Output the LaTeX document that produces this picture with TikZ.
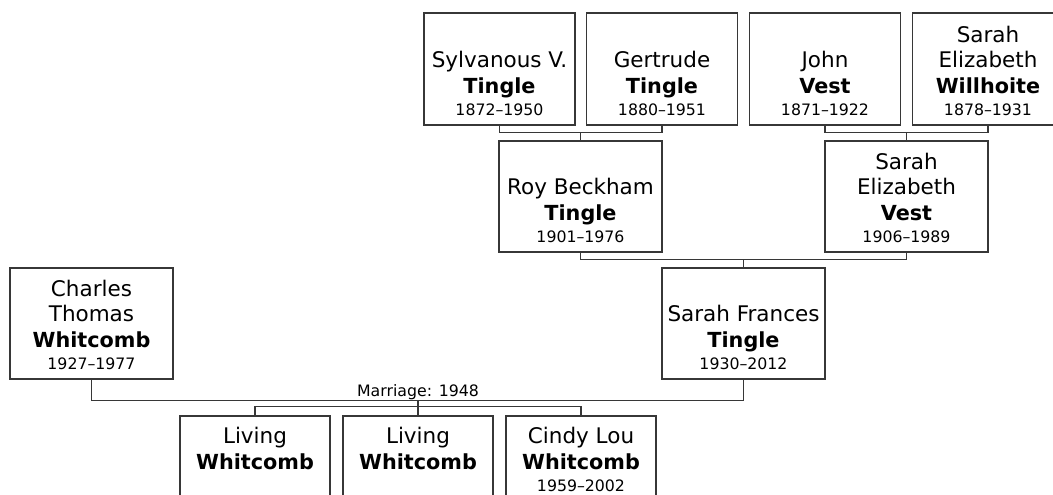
\documentclass[tikz,border=0pt]{standalone}
\usepackage{fontspec}
\setmainfont{DejaVu Sans}
\usetikzlibrary{calc}
\definecolor{edge}{RGB}{55,55,55}
\newcommand{\nm}{\fontsize{21.5}{25.5}\selectfont}
\newcommand{\bn}[1]{{\fontsize{20.75}{25.5}\selectfont\bfseries #1}}
\newcommand{\dt}{\fontsize{15.75}{22}\selectfont}
\begin{document}
\begin{tikzpicture}[x=1pt,y=-1pt,
  person/.style={draw=edge, line width=1.3pt, fill=white, inner sep=0pt},
  topbox/.style={person, minimum width=151pt, minimum height=112pt},
  midbox/.style={person, minimum width=163pt, minimum height=111pt},
  kidbox/.style={person, minimum width=150pt, minimum height=85pt},
  txt/.style={anchor=south, inner sep=0pt, align=center, font=\nm, text depth=0pt},
  link/.style={draw=edge, line width=1.4pt},
  lbl/.style={anchor=base, inner sep=0pt, font=\dt}]
\clip (0,0) rectangle (1053,495);
% top row
\node[topbox] (syl) at (499.5,69) {};
\node[txt] (sylt) at ([yshift=10pt]syl.south) {Sylvanous V.\\\bn{Tingle}\\[-3.5pt]{\dt 1872–1950}};
\node[topbox] (ger) at (662,69) {};
\node[txt] (gert) at ([yshift=10pt]ger.south) {Gertrude\\\bn{Tingle}\\[-3.5pt]{\dt 1880–1951}};
\node[topbox] (joh) at (825,69) {};
\node[txt] (joht) at ([yshift=10pt]joh.south) {John\\\bn{Vest}\\[-3.5pt]{\dt 1871–1922}};
\node[topbox] (wil) at (988,69) {};
\node[txt] (wilt) at ([yshift=10pt]wil.south) {Sarah\\Elizabeth\\\bn{Willhoite}\\[-3.5pt]{\dt 1878–1931}};
% middle row
\node[midbox] (roy) at (580.5,196.5) {};
\node[txt] (royt) at ([yshift=10pt]roy.south) {Roy Beckham\\\bn{Tingle}\\[-3.5pt]{\dt 1901–1976}};
\node[midbox] (ves) at (906.5,196.5) {};
\node[txt] (vest) at ([yshift=10pt]ves.south) {Sarah\\Elizabeth\\\bn{Vest}\\[-3.5pt]{\dt 1906–1989}};
% couple
\node[midbox] (sf) at (743.5,323.5) {};
\node[txt] (sft) at ([yshift=10pt]sf.south) {Sarah Frances\\\bn{Tingle}\\[-3.5pt]{\dt 1930–2012}};
\node[midbox] (cha) at (91.5,323.5) {};
\node[txt] (chat) at ([yshift=10pt]cha.south) {Charles\\Thomas\\\bn{Whitcomb}\\[-3.5pt]{\dt 1927–1977}};
% children
\node[kidbox] (k1) at (255,458.5) {};
\node[txt] (k1t) at ([yshift=32pt]k1.south) {Living\\\bn{Whitcomb}};
\node[kidbox] (k2) at (418,458.5) {};
\node[txt] (k2t) at ([yshift=32pt]k2.south) {Living\\\bn{Whitcomb}};
\node[kidbox] (k3) at (581,458.5) {};
\node[txt] (k3t) at ([yshift=10pt]k3.south) {Cindy Lou\\\bn{Whitcomb}\\[-3.5pt]{\dt 1959–2002}};
% connectors
\coordinate (b1) at ([yshift=8pt]roy.north);
\draw[link] (syl.south) -- (syl.south |- b1) -- (ger.south |- b1) -- (ger.south);
\draw[link] (b1) -- (roy.north);
\coordinate (b2) at ([yshift=8pt]ves.north);
\draw[link] (joh.south) -- (joh.south |- b2) -- (wil.south |- b2) -- (wil.south);
\draw[link] (b2) -- (ves.north);
\coordinate (b3) at ([yshift=8pt]sf.north);
\draw[link] (roy.south) -- (roy.south |- b3) -- (ves.south |- b3) -- (ves.south);
\draw[link] (b3) -- (sf.north);
\coordinate (m) at ([yshift=-21pt]cha.south);
\draw[link] (cha.south) -- (m) -- (m -| sf.south) -- (sf.south);
\coordinate (c) at ([yshift=9pt]k2.north);
\draw[link] (k2.north |- m) -- (k2.north);
\draw[link] (k1.north) -- (k1.north |- c) -- (k3.north |- c) -- (k3.north);
\node[lbl] (ml) at ([yshift=4pt]k2.north |- m) {Marriage: 1948};
\end{tikzpicture}
\end{document}
